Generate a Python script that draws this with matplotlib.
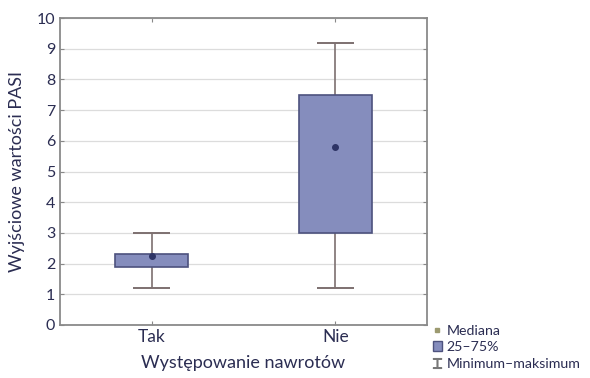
import matplotlib
matplotlib.use("Agg")
import matplotlib.pyplot as plt
from matplotlib.lines import Line2D
from matplotlib.patches import Patch

plt.rcParams['font.family'] = ['Lato', 'DejaVu Sans']

categories = ["Tak", "Nie"]
medians = [2.25, 5.8]
q1 = [1.9, 3.0]
q3 = [2.3, 7.5]
mins = [1.2, 1.2]
maxs = [3.0, 9.2]

yticks = list(range(0, 11))
legend_labels = ["Mediana", "25–75%", "Minimum–maksimum"]

text_col = "#2b2d52"
box_face = "#858dbd"
box_edge = "#4d527e"
whisk_col = "#7d7070"

fig = plt.figure(figsize=(5.90, 3.78), dpi=100)
ax = fig.add_axes([60 / 590, 1 - 325 / 378, 367 / 590, 307 / 378])

pos = list(range(len(categories)))
box_w = 0.4
cap_w = 0.2
for i, p in enumerate(pos):
    ax.vlines(p, mins[i], maxs[i], color=whisk_col, lw=1.2, zorder=2)
    ax.hlines([mins[i], maxs[i]], p - cap_w / 2, p + cap_w / 2,
              color=whisk_col, lw=1.4, zorder=2)
    ax.bar(p, q3[i] - q1[i], bottom=q1[i], width=box_w, color=box_face,
           edgecolor=box_edge, linewidth=1.2, zorder=3)
    ax.plot(p, medians[i], 'o', ms=4, color="#2e3466", zorder=4)

ax.set_xlim(-0.5, 1.5)
ax.set_ylim(0, 10)
ax.set_yticks(yticks)
ax.set_xticks(pos)
ax.set_xticklabels(categories)
ax.grid(axis='y', color="#dcdcdc", lw=0.9, zorder=0)
ax.set_axisbelow(True)
ax.tick_params(axis='both', direction='in', length=3, colors="#888888",
               labelcolor=text_col, labelsize=11.5, top=True, right=True)
ax.tick_params(axis='x', labelsize=12.5, pad=3)
for s in ax.spines.values():
    s.set_color("#8a8a8a")
    s.set_linewidth(1.3)

ax.set_ylabel("Wyjściowe wartości PASI", color=text_col, fontsize=13, labelpad=8)
ax.set_xlabel("Występowanie nawrotów", color=text_col, fontsize=13, labelpad=7)

handles = [
    Line2D([], [], marker='s', ls='none', ms=3, color="#9c9a70"),
    Patch(facecolor=box_face, edgecolor=box_edge),
    Line2D([], [], marker='$\u2336$', ls='none', ms=7, color="#777777"),
]
fig.legend(handles, legend_labels, loc='upper left',
           bbox_to_anchor=(426 / 590, 1 - 318 / 378), frameon=False,
           fontsize=10.2, labelcolor=text_col, handlelength=0.6,
           handletextpad=0.35, labelspacing=0.3, borderpad=0)

fig.savefig("out.png", dpi=100, facecolor="white")
